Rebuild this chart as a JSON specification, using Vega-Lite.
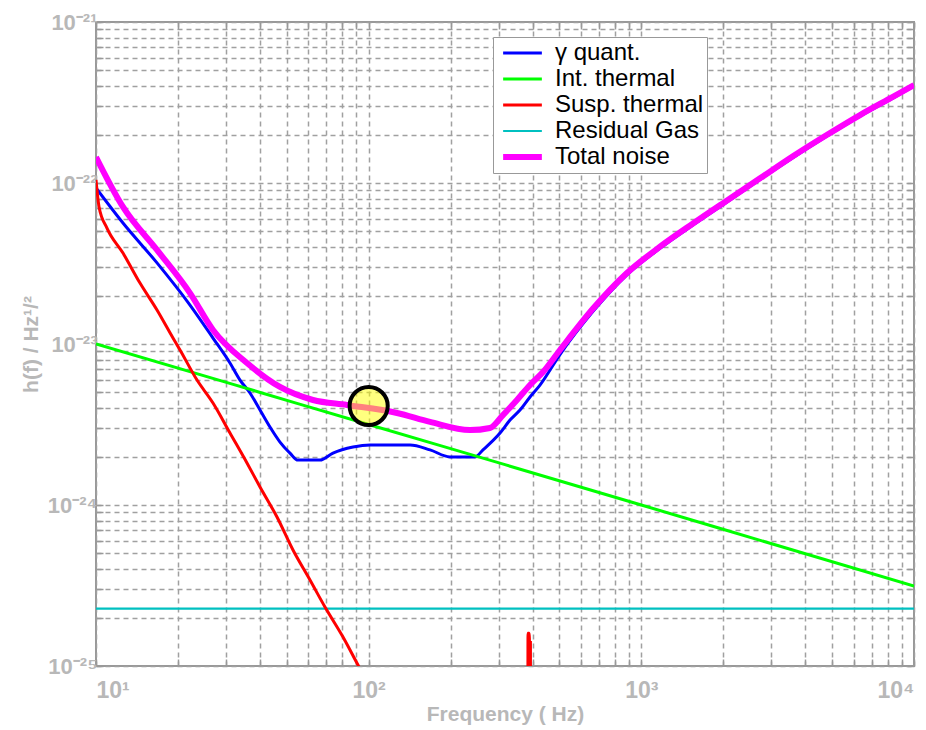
{
  "$schema": "https://vega.github.io/schema/vega-lite/v6.json",
  "width": 818,
  "height": 644,
  "autosize": {"type": "none"},
  "padding": {"left": 96, "top": 22, "right": 12, "bottom": 64},
  "background": "white",
  "config": {
    "font": "Liberation Sans",
    "view": {"stroke": "#999999", "strokeWidth": 2},
    "axis": {
      "gridColor": "#a0a0a0",
      "gridDash": [5, 4],
      "gridWidth": 1.5,
      "tickColor": "#999999",
      "tickWidth": 1.5,
      "domain": false,
      "labelColor": "#b8b8b8",
      "titleColor": "#b8b8b8",
      "labelFont": "Liberation Sans",
      "titleFont": "Liberation Sans",
      "labelFontWeight": "bold",
      "titleFontWeight": "bold",
      "labelOverlap": false
    },
    "legend": {
      "orient": "none",
      "legendX": 397,
      "legendY": 15,
      "symbolType": "stroke",
      "symbolSize": 1500,
      "symbolOffset": 4,
      "clipHeight": 26,
      "labelFontSize": 24,
      "labelColor": "#000000",
      "labelFont": "Liberation Sans",
      "labelOffset": 10,
      "padding": 3,
      "rowPadding": 0,
      "strokeColor": "#999999",
      "fillColor": "#ffffff"
    }
  },
  "datasets": {
    "curves": [
      {"s": "Residual Gas", "f": 10, "h": 2.27e-25},
      {"s": "Residual Gas", "f": 10000, "h": 2.27e-25},
      {"s": "γ quant.", "f": 10, "h": 9.31e-23},
      {"s": "γ quant.", "f": 12.56, "h": 5.64e-23},
      {"s": "γ quant.", "f": 16.74, "h": 3.19e-23},
      {"s": "γ quant.", "f": 22.12, "h": 1.746e-23},
      {"s": "γ quant.", "f": 26.86, "h": 1.089e-23},
      {"s": "γ quant.", "f": 31.0, "h": 7.62e-24},
      {"s": "γ quant.", "f": 33.74, "h": 5.97e-24},
      {"s": "γ quant.", "f": 36.71, "h": 4.96e-24},
      {"s": "γ quant.", "f": 39.95, "h": 3.89e-24},
      {"s": "γ quant.", "f": 43.46, "h": 3.05e-24},
      {"s": "γ quant.", "f": 47.29, "h": 2.46e-24},
      {"s": "γ quant.", "f": 51.45, "h": 2.1e-24},
      {"s": "γ quant.", "f": 55.06, "h": 1.9e-24},
      {"s": "γ quant.", "f": 66.31, "h": 1.9e-24},
      {"s": "γ quant.", "f": 73.99, "h": 2.1e-24},
      {"s": "γ quant.", "f": 87.61, "h": 2.29e-24},
      {"s": "γ quant.", "f": 101.1, "h": 2.36e-24},
      {"s": "γ quant.", "f": 141.8, "h": 2.36e-24},
      {"s": "γ quant.", "f": 167.9, "h": 2.2e-24},
      {"s": "γ quant.", "f": 198.7, "h": 1.99e-24},
      {"s": "γ quant.", "f": 245.5, "h": 1.99e-24},
      {"s": "γ quant.", "f": 262.6, "h": 2.2e-24},
      {"s": "γ quant.", "f": 303.2, "h": 2.8e-24},
      {"s": "γ quant.", "f": 329.9, "h": 3.37e-24},
      {"s": "γ quant.", "f": 358.9, "h": 3.89e-24},
      {"s": "γ quant.", "f": 390.6, "h": 4.69e-24},
      {"s": "γ quant.", "f": 424.9, "h": 5.56e-24},
      {"s": "γ quant.", "f": 503, "h": 8.6e-24},
      {"s": "γ quant.", "f": 666.4, "h": 1.6e-23},
      {"s": "γ quant.", "f": 883.6, "h": 2.68e-23},
      {"s": "γ quant.", "f": 1170.6, "h": 3.93e-23},
      {"s": "γ quant.", "f": 1551, "h": 5.5e-23},
      {"s": "γ quant.", "f": 2056, "h": 7.6e-23},
      {"s": "γ quant.", "f": 2724, "h": 1.05e-22},
      {"s": "γ quant.", "f": 3608, "h": 1.44e-22},
      {"s": "γ quant.", "f": 4784, "h": 1.95e-22},
      {"s": "γ quant.", "f": 6339, "h": 2.6e-22},
      {"s": "γ quant.", "f": 8395, "h": 3.38e-22},
      {"s": "γ quant.", "f": 10000, "h": 4.0e-22},
      {"s": "Int. thermal", "f": 10, "h": 1e-23},
      {"s": "Int. thermal", "f": 31.62, "h": 5.63e-24},
      {"s": "Int. thermal", "f": 100, "h": 3.16e-24},
      {"s": "Int. thermal", "f": 316.2, "h": 1.78e-24},
      {"s": "Int. thermal", "f": 1000, "h": 1e-24},
      {"s": "Int. thermal", "f": 3162, "h": 5.6e-25},
      {"s": "Int. thermal", "f": 10000, "h": 3.14e-25},
      {"s": "Susp. thermal", "f": 10, "h": 1.044e-22},
      {"s": "Susp. thermal", "f": 10.26, "h": 7.1e-23},
      {"s": "Susp. thermal", "f": 10.97, "h": 5.25e-23},
      {"s": "Susp. thermal", "f": 12.56, "h": 3.67e-23},
      {"s": "Susp. thermal", "f": 14.5, "h": 2.39e-23},
      {"s": "Susp. thermal", "f": 16.74, "h": 1.626e-23},
      {"s": "Susp. thermal", "f": 19.16, "h": 1.089e-23},
      {"s": "Susp. thermal", "f": 20.33, "h": 9.18e-24},
      {"s": "Susp. thermal", "f": 23.47, "h": 5.97e-24},
      {"s": "Susp. thermal", "f": 26.86, "h": 4.3e-24},
      {"s": "Susp. thermal", "f": 31.0, "h": 2.8e-24},
      {"s": "Susp. thermal", "f": 35.79, "h": 1.823e-24},
      {"s": "Susp. thermal", "f": 39.95, "h": 1.294e-24},
      {"s": "Susp. thermal", "f": 46.11, "h": 8.42e-25},
      {"s": "Susp. thermal", "f": 52.78, "h": 5.25e-25},
      {"s": "Susp. thermal", "f": 60.93, "h": 3.42e-25},
      {"s": "Susp. thermal", "f": 69.15, "h": 2.325e-25},
      {"s": "Susp. thermal", "f": 80.52, "h": 1.514e-25},
      {"s": "Susp. thermal", "f": 91.38, "h": 1.014e-25},
      {"s": "Susp. thermal", "f": 110.1, "h": 5.72e-26},
      {"s": "Susp. thermal", "f": 383, "h": 1e-27},
      {"s": "Susp. thermal", "f": 384, "h": 1.6e-25},
      {"s": "Susp. thermal", "f": 388, "h": 1.6e-25},
      {"s": "Susp. thermal", "f": 389, "h": 1.4e-25},
      {"s": "Susp. thermal", "f": 392, "h": 1.4e-25},
      {"s": "Susp. thermal", "f": 393, "h": 1e-27},
      {"s": "Susp. thermal", "f": 10000, "h": 1e-29},
      {"s": "Total noise", "f": 10, "h": 1.45e-22},
      {"s": "Total noise", "f": 12.56, "h": 7.1e-23},
      {"s": "Total noise", "f": 16.74, "h": 3.84e-23},
      {"s": "Total noise", "f": 22.12, "h": 2.07e-23},
      {"s": "Total noise", "f": 26.86, "h": 1.222e-23},
      {"s": "Total noise", "f": 35.79, "h": 7.62e-24},
      {"s": "Total noise", "f": 47.29, "h": 5.41e-24},
      {"s": "Total noise", "f": 62.5, "h": 4.49e-24},
      {"s": "Total noise", "f": 83.26, "h": 4.18e-24},
      {"s": "Total noise", "f": 127.0, "h": 3.73e-24},
      {"s": "Total noise", "f": 167.9, "h": 3.28e-24},
      {"s": "Total noise", "f": 235.3, "h": 2.92e-24},
      {"s": "Total noise", "f": 278.6, "h": 3.01e-24},
      {"s": "Total noise", "f": 310.8, "h": 3.62e-24},
      {"s": "Total noise", "f": 349.9, "h": 4.49e-24},
      {"s": "Total noise", "f": 390.6, "h": 5.56e-24},
      {"s": "Total noise", "f": 435.9, "h": 6.7e-24},
      {"s": "Total noise", "f": 503, "h": 9.18e-24},
      {"s": "Total noise", "f": 666.4, "h": 1.666e-23},
      {"s": "Total noise", "f": 883.6, "h": 2.75e-23},
      {"s": "Total noise", "f": 1170.6, "h": 4.02e-23},
      {"s": "Total noise", "f": 1551, "h": 5.62e-23},
      {"s": "Total noise", "f": 2056, "h": 7.76e-23},
      {"s": "Total noise", "f": 2724, "h": 1.069e-22},
      {"s": "Total noise", "f": 3608, "h": 1.471e-22},
      {"s": "Total noise", "f": 4784, "h": 1.986e-22},
      {"s": "Total noise", "f": 6339, "h": 2.643e-22},
      {"s": "Total noise", "f": 8395, "h": 3.44e-22},
      {"s": "Total noise", "f": 10000, "h": 4.06e-22}
    ],
    "marker": [
      {"f": 100, "h": 4.12e-24}
    ]
  },
  "resolve": {"axis": {"x": "independent", "y": "independent"}},
  "layer": [
    {
      "data": {"name": "curves"},
      "transform": [{"filter": "datum.s != 'Total noise'"}],
      "mark": {"type": "line", "clip": true, "interpolate": "monotone"},
      "encoding": {
        "x": {
          "field": "f", "type": "quantitative",
          "scale": {"type": "log", "domain": [10, 10000], "nice": false},
          "axis": {
            "orient": "bottom",
            "values": [10,20,30,40,50,60,70,80,90,100,200,300,400,500,600,700,800,900,1000,2000,3000,4000,5000,6000,7000,8000,9000,10000],
            "grid": true,
            "tickSize": -7,
            "labelPadding": 20,
            "labelFontSize": 23,
            "labelExpr": "datum.value==10?'10¹':datum.value==100?'10²':datum.value==1000?'10³':datum.value==10000?'10⁴':''",
            "title": "Frequency ( Hz)",
            "titleFontSize": 21,
            "titlePadding": 1
          }
        },
        "y": {
          "field": "h", "type": "quantitative",
          "scale": {"type": "log", "domain": [1e-25, 1e-21], "nice": false},
          "axis": {
            "orient": "left",
            "values": [1e-25,2e-25,3e-25,4e-25,5e-25,6e-25,7e-25,8e-25,9e-25,1e-24,2e-24,3e-24,4e-24,5e-24,6e-24,7e-24,8e-24,9e-24,1e-23,2e-23,3e-23,4e-23,5e-23,6e-23,7e-23,8e-23,9e-23,1e-22,2e-22,3e-22,4e-22,5e-22,6e-22,7e-22,8e-22,9e-22,1e-21],
            "grid": true,
            "tickSize": -7,
            "labelPadding": 6,
            "labelFontSize": 22,
            "labelExpr": "datum.value==1e-21?'10⁻²¹':datum.value==1e-22?'10⁻²²':datum.value==1e-23?'10⁻²³':datum.value==1e-24?'10⁻²⁴':datum.value==1e-25?'10⁻²⁵':''",
            "title": "h(f) / Hz¹/²",
            "titleFontSize": 21,
            "titlePadding": 6
          }
        },
        "color": {
          "field": "s", "type": "nominal",
          "scale": {
            "domain": ["γ quant.", "Int. thermal", "Susp. thermal", "Residual Gas", "Total noise"],
            "range": ["#0000ff", "#00ff00", "#ff0000", "#00c0c0", "#ff00ff"]
          },
          "legend": {"title": null}
        },
        "strokeWidth": {
          "field": "s", "type": "nominal",
          "scale": {
            "type": "ordinal",
            "domain": ["γ quant.", "Int. thermal", "Susp. thermal", "Residual Gas", "Total noise"],
            "range": [3, 3, 3, 2.2, 6]
          },
          "legend": {"title": null}
        }
      }
    },
    {
      "data": {"name": "curves"},
      "transform": [{"filter": "datum.s == 'Total noise'"}],
      "mark": {"type": "line", "clip": true, "interpolate": "monotone"},
      "encoding": {
        "x": {
          "field": "f", "type": "quantitative",
          "scale": {"type": "log", "domain": [10, 10000], "nice": false},
          "axis": {
            "orient": "top",
            "values": [10,20,30,40,50,60,70,80,90,100,200,300,400,500,600,700,800,900,1000,2000,3000,4000,5000,6000,7000,8000,9000,10000],
            "grid": false, "labels": false, "tickSize": -7, "title": null
          }
        },
        "y": {
          "field": "h", "type": "quantitative",
          "scale": {"type": "log", "domain": [1e-25, 1e-21], "nice": false},
          "axis": {
            "orient": "right",
            "values": [1e-25,2e-25,3e-25,4e-25,5e-25,6e-25,7e-25,8e-25,9e-25,1e-24,2e-24,3e-24,4e-24,5e-24,6e-24,7e-24,8e-24,9e-24,1e-23,2e-23,3e-23,4e-23,5e-23,6e-23,7e-23,8e-23,9e-23,1e-22,2e-22,3e-22,4e-22,5e-22,6e-22,7e-22,8e-22,9e-22,1e-21],
            "grid": false, "labels": false, "tickSize": -7, "title": null
          }
        },
        "color": {
          "field": "s", "type": "nominal",
          "scale": {
            "domain": ["γ quant.", "Int. thermal", "Susp. thermal", "Residual Gas", "Total noise"],
            "range": ["#0000ff", "#00ff00", "#ff0000", "#00c0c0", "#ff00ff"]
          },
          "legend": {"title": null}
        },
        "strokeWidth": {
          "field": "s", "type": "nominal",
          "scale": {
            "type": "ordinal",
            "domain": ["γ quant.", "Int. thermal", "Susp. thermal", "Residual Gas", "Total noise"],
            "range": [3, 3, 3, 2.2, 6]
          },
          "legend": {"title": null}
        }
      }
    },
    {
      "data": {"name": "marker"},
      "mark": {"type": "circle", "size": 1452, "fill": "#ffff00", "fillOpacity": 0.5, "stroke": "#000000", "strokeWidth": 4, "opacity": 1},
      "encoding": {
        "x": {"field": "f", "type": "quantitative", "axis": null},
        "y": {"field": "h", "type": "quantitative", "axis": null}
      }
    }
  ]
}
